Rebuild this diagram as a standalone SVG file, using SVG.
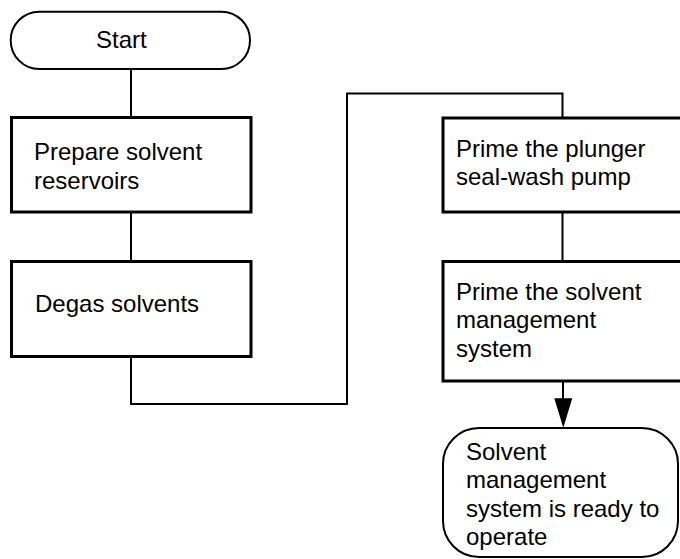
<svg xmlns="http://www.w3.org/2000/svg" width="680" height="559" viewBox="0 0 680 559">
<style>
.box{fill:#fff;stroke:#000;stroke-width:3}
.term{fill:#fff;stroke:#000;stroke-width:2}
.con{fill:none;stroke:#000;stroke-width:2}
text{font-family:"Liberation Sans",Arial,sans-serif;font-size:24px;fill:#000}
</style>
<rect width="680" height="559" fill="#fff"/>
<g id="connectors">
<line class="con" x1="131" y1="69" x2="131" y2="117"/>
<line class="con" x1="131" y1="212" x2="131" y2="261"/>
<polyline class="con" points="131,357 131,404 347,404 347,93.5 562.5,93.5 562.5,118"/>
<line class="con" x1="562.5" y1="212" x2="562.5" y2="261"/>
<line class="con" x1="563" y1="381" x2="563" y2="400"/>
<polygon points="554.3,398.3 572.3,398.3 563.3,427.7" fill="#000"/>
</g>
<g id="start">
<rect class="term" x="10.7" y="11.7" width="239.3" height="57.3" rx="28.6"/>
<text x="96" y="48.3">Start</text>
</g>
<g id="prepare">
<rect class="box" x="11.5" y="117.5" width="239.5" height="94.5"/>
<text x="34"><tspan x="34" y="160">Prepare solvent</tspan><tspan x="34" y="188.5">reservoirs</tspan></text>
</g>
<g id="degas">
<rect class="box" x="11.5" y="261.5" width="239.5" height="95"/>
<text x="35" y="312">Degas solvents</text>
</g>
<g id="prime-plunger">
<rect class="box" x="443" y="118" width="260" height="94"/>
<text><tspan x="456" y="156.7">Prime the plunger</tspan><tspan x="456" y="184.5">seal-wash pump</tspan></text>
</g>
<g id="prime-solvent">
<rect class="box" x="443" y="261.5" width="260" height="119.5"/>
<text><tspan x="456" y="300">Prime the solvent</tspan><tspan x="456" y="328.3">management</tspan><tspan x="456" y="356.7">system</tspan></text>
</g>
<g id="ready">
<rect class="term" x="443" y="428" width="235" height="129" rx="36"/>
<text><tspan x="466" y="460">Solvent</tspan><tspan x="466" y="488.3">management</tspan><tspan x="466" y="516.7">system is ready to</tspan><tspan x="466" y="545">operate</tspan></text>
</g>
</svg>
